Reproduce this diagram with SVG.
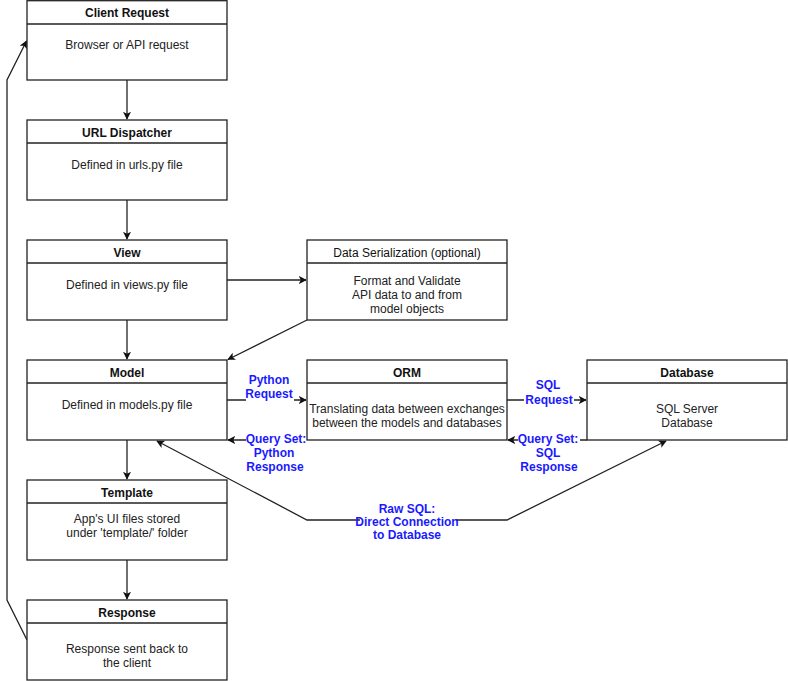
<svg xmlns="http://www.w3.org/2000/svg" width="788" height="681" viewBox="0 0 788 681">
<defs>
<marker id="arr" viewBox="0 0 10 10" refX="9" refY="5" markerWidth="8" markerHeight="8" markerUnits="userSpaceOnUse" orient="auto">
<path d="M0,0 L10,5 L0,10 L2.5,5 Z" fill="#111"/>
</marker>
<marker id="arrs" viewBox="0 0 10 10" refX="1" refY="5" markerWidth="8" markerHeight="8" markerUnits="userSpaceOnUse" orient="auto">
<path d="M10,0 L0,5 L10,10 L7.5,5 Z" fill="#111"/>
</marker>
<style>
.box{fill:#fff;stroke:#222;stroke-width:1.3}
.hd{font-family:"Liberation Sans",Arial,sans-serif;font-size:12px;font-weight:bold;fill:#111;text-anchor:middle}
.hdn{font-family:"Liberation Sans",Arial,sans-serif;font-size:12px;fill:#111;text-anchor:middle}
.bd{font-family:"Liberation Sans",Arial,sans-serif;font-size:12px;fill:#222;text-anchor:middle}
.ln{fill:none;stroke:#222;stroke-width:1.3}
.lb{font-family:"Liberation Sans",Arial,sans-serif;font-size:12px;font-weight:bold;fill:#1a1aff;text-anchor:middle}
.bg{fill:#fff}
</style>
</defs>
<rect width="788" height="681" fill="#fff"/>

<g id="connectors">
<path class="ln" d="M127,80 L127,119" marker-end="url(#arr)"/>
<path class="ln" d="M127,200 L127,239" marker-end="url(#arr)"/>
<path class="ln" d="M127,320 L127,359" marker-end="url(#arr)"/>
<path class="ln" d="M127,440 L127,479" marker-end="url(#arr)"/>
<path class="ln" d="M127,560 L127,599" marker-end="url(#arr)"/>
<path class="ln" d="M27,640 L7,600 L7,80 L26.5,41" marker-end="url(#arr)"/>
<path class="ln" d="M227,280 L306,280" marker-end="url(#arr)"/>
<path class="ln" d="M307,320 L228,359.5" marker-end="url(#arr)"/>
<path class="ln" d="M227,400 L306,400" marker-end="url(#arr)"/>
<path class="ln" d="M307,440 L228,440" marker-end="url(#arr)"/>
<path class="ln" d="M507,400 L586,400" marker-end="url(#arr)"/>
<path class="ln" d="M587,440 L508,440" marker-end="url(#arr)"/>
<path class="ln" d="M157,441 L307,520 L507,520 L666,441" marker-start="url(#arrs)" marker-end="url(#arr)"/>
</g>

<g id="labels">
<rect class="bg" x="246" y="389" width="48" height="13"/>
<text class="lb" x="269" y="384">Python</text>
<text class="lb" x="269" y="398">Request</text>
<rect class="bg" x="246" y="433" width="62" height="12"/>
<text class="lb" x="276" y="443">Query Set:</text>
<text class="lb" x="274" y="457">Python</text>
<text class="lb" x="275" y="471">Response</text>
<rect class="bg" x="524" y="394" width="50" height="12"/>
<text class="lb" x="548" y="389">SQL</text>
<text class="lb" x="549" y="404">Request</text>
<rect class="bg" x="518" y="433" width="62" height="12"/>
<text class="lb" x="548" y="443">Query Set:</text>
<text class="lb" x="548" y="457">SQL</text>
<text class="lb" x="549" y="471">Response</text>
<rect class="bg" x="360" y="515" width="96" height="12"/>
<text class="lb" x="407" y="513">Raw SQL:</text>
<text class="lb" x="407" y="526">Direct Connection</text>
<text class="lb" x="407" y="539">to Database</text>
</g>

<g id="client-request">
<rect class="box" x="27" y="0.7" width="200" height="79.3"/>
<line class="ln" x1="27" y1="24" x2="227" y2="24"/>
<text class="hd" x="127" y="17">Client Request</text>
<text class="bd" x="127" y="49">Browser or API request</text>
</g>
<g id="url-dispatcher">
<rect class="box" x="27" y="120" width="200" height="80"/>
<line class="ln" x1="27" y1="143" x2="227" y2="143"/>
<text class="hd" x="127" y="137">URL Dispatcher</text>
<text class="bd" x="127" y="169">Defined in urls.py file</text>
</g>
<g id="view">
<rect class="box" x="27" y="240" width="200" height="80"/>
<line class="ln" x1="27" y1="263" x2="227" y2="263"/>
<text class="hd" x="127" y="257">View</text>
<text class="bd" x="127" y="289">Defined in views.py file</text>
</g>
<g id="data-serialization">
<rect class="box" x="307" y="240" width="200" height="80"/>
<line class="ln" x1="307" y1="263" x2="507" y2="263"/>
<text class="hdn" x="407" y="257">Data Serialization (optional)</text>
<text class="bd" x="407" y="285">Format and Validate</text>
<text class="bd" x="407" y="299">API data to and from</text>
<text class="bd" x="407" y="313">model objects</text>
</g>
<g id="model">
<rect class="box" x="27" y="360" width="200" height="80"/>
<line class="ln" x1="27" y1="383" x2="227" y2="383"/>
<text class="hd" x="127" y="377">Model</text>
<text class="bd" x="127" y="409">Defined in models.py file</text>
</g>
<g id="orm">
<rect class="box" x="307" y="360" width="200" height="80"/>
<line class="ln" x1="307" y1="383" x2="507" y2="383"/>
<text class="hd" x="407" y="377">ORM</text>
<text class="bd" x="407" y="413">Translating data between exchanges</text>
<text class="bd" x="407" y="427">between the models and databases</text>
</g>
<g id="database">
<rect class="box" x="587" y="360" width="200" height="80"/>
<line class="ln" x1="587" y1="383" x2="787" y2="383"/>
<text class="hd" x="687" y="377">Database</text>
<text class="bd" x="687" y="413">SQL Server</text>
<text class="bd" x="687" y="427">Database</text>
</g>
<g id="template">
<rect class="box" x="27" y="480" width="200" height="80"/>
<line class="ln" x1="27" y1="503" x2="227" y2="503"/>
<text class="hd" x="127" y="497">Template</text>
<text class="bd" x="127" y="523">App's UI files stored</text>
<text class="bd" x="127" y="537">under 'template/' folder</text>
</g>
<g id="response">
<rect class="box" x="27" y="600" width="200" height="80"/>
<line class="ln" x1="27" y1="623" x2="227" y2="623"/>
<text class="hd" x="127" y="617">Response</text>
<text class="bd" x="127" y="653">Response sent back to</text>
<text class="bd" x="127" y="667">the client</text>
</g>
</svg>
